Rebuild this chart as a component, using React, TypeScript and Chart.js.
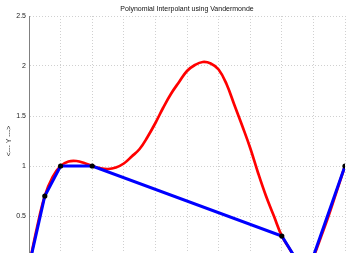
import React, { useEffect, useRef } from "react";
import { Chart, registerables } from "chart.js";

Chart.register(...registerables);

const nodeX = [0, 0.5, 1, 2, 8, 8.78, 10];
const nodeY = [0, 0.7, 1, 1, 0.3, -0.1, 1];

const curveX = [0, 0.25, 0.5, 0.75, 1, 1.25, 1.5, 1.75, 2, 2.25, 2.5, 2.75, 3, 3.25, 3.5, 3.75, 4, 4.25, 4.5, 4.75, 5, 5.25, 5.5, 5.75, 6, 6.25, 6.5, 6.75, 7, 7.25, 7.5, 7.75, 8, 8.25, 8.5, 8.75, 9, 9.25, 9.5, 9.75, 10];
const curveY = [0, 0.38, 0.7, 0.89, 1, 1.045, 1.05, 1.03, 1, 0.978, 0.97, 0.985, 1.025, 1.095, 1.17, 1.29, 1.43, 1.585, 1.725, 1.84, 1.95, 2.01, 2.04, 2.025, 1.965, 1.82, 1.61, 1.4, 1.18, 0.93, 0.7, 0.5, 0.3, 0.17, 0.04, -0.06, 0.09, 0.3, 0.52, 0.76, 1];

const xTicks = [0, 1, 2, 3, 4, 5, 6, 7, 8, 9, 10];
const yTicks = [0, 0.5, 1, 1.5, 2, 2.5];

const titleText = "Polynomial Interpolant using Vandermonde";
const yTitle = "<--- Y --->";

export default function App() {
  const ref = useRef<HTMLCanvasElement | null>(null);
  useEffect(() => {
    if (!ref.current) return;
    const font = { family: "'Liberation Sans', Arial, sans-serif", size: 7 };
    const chart = new Chart(ref.current, {
      type: "line",
      data: {
        datasets: [
          {
            label: "nodes",
            data: nodeX.map((x, i) => ({ x, y: nodeY[i] })),
            borderColor: "#0000ff",
            borderWidth: 3,
            pointRadius: 2.6,
            pointBackgroundColor: "#000000",
            pointBorderWidth: 0,
            tension: 0,
          },
          {
            label: "interp",
            data: curveX.map((x, i) => ({ x, y: curveY[i] })),
            borderColor: "#ff0000",
            borderWidth: 2.7,
            pointRadius: 0,
            tension: 0.4,
          },
        ],
      },
      options: {
        animation: false,
        responsive: false,
        devicePixelRatio: 1,
        layout: { padding: { left: 0, right: 2, top: 0, bottom: 14 } },
        plugins: {
          legend: { display: false },
          tooltip: { enabled: false },
          title: {
            display: true,
            text: titleText,
            fullSize: false,
            color: "#111",
            font: { ...font, weight: "normal" },
            padding: { top: 5, bottom: 2.6 },
          },
        },
        scales: {
          x: {
            type: "linear",
            min: 0,
            max: 10,
            afterBuildTicks: (s: any) => {
              s.ticks = xTicks.map((v) => ({ value: v }));
            },
            afterFit: (s: any) => {
              s.height = 0;
            },
            ticks: { display: false },
            grid: { color: "#d0d0d0", lineWidth: 1, drawTicks: false },
            border: { display: false, dash: [1, 2] },
          },
          y: {
            min: 0,
            max: 2.5,
            afterBuildTicks: (s: any) => {
              s.ticks = yTicks.map((v) => ({ value: v }));
            },
            afterFit: (s: any) => {
              s.width = 29;
            },
            ticks: {
              color: "#222",
              font,
              padding: 3,
              callback: (v: any) => String(v),
            },
            grid: { color: "#d0d0d0", lineWidth: 1, drawTicks: false },
            border: { display: true, color: "#808080", width: 1, dash: [1, 2] },
            title: {
              display: true,
              text: yTitle,
              color: "#333",
              font,
              padding: { top: 5, bottom: 0 },
            },
          },
        },
      },
    });
    return () => chart.destroy();
  }, []);
  return (
    <div
      style={{
        position: "fixed",
        left: 0,
        top: 0,
        width: 349,
        height: 253,
        overflow: "hidden",
        background: "#fff",
      }}
    >
      <canvas ref={ref} width={349} height={280} style={{ display: "block" }} />
    </div>
  );
}
